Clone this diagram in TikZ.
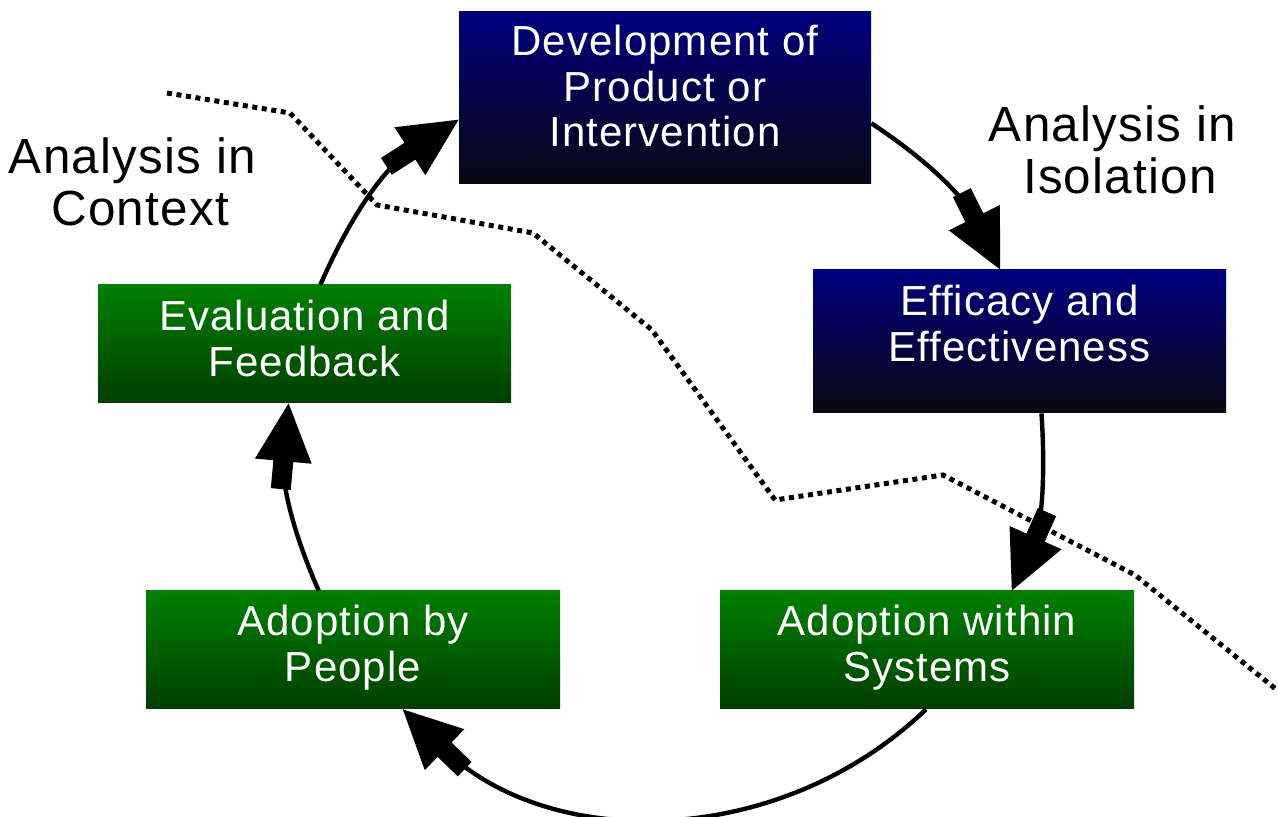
\documentclass[tikz,border=0pt]{standalone}
\usepackage{fontspec}
\setmainfont{Liberation Sans}[LetterSpace=2.5]
\usetikzlibrary{arrows.meta}
\definecolor{navyT}{RGB}{0,0,128}
\definecolor{navyB}{RGB}{10,8,18}
\definecolor{greenT}{RGB}{0,128,0}
\definecolor{greenB}{RGB}{0,62,0}
\tikzset{
  bluebox/.style={rectangle, inner sep=0pt, top color=navyT, bottom color=navyB, draw=none},
  greenbox/.style={rectangle, inner sep=0pt, top color=greenT, bottom color=greenB, draw=none},
  boxtext/.style={text=white, font=\fontsize{21}{22.75}\selectfont, align=center, anchor=north, inner sep=0pt},
  sidelabel/.style={font=\fontsize{24.7}{26}\selectfont, align=center, anchor=north, inner sep=0pt},
  cyc/.style={line width=2.2pt, -{Rectangle[length=15pt,width=10pt,line width=0pt,sep=-1pt] Triangle[length=29pt,width=28.5pt,line width=0pt]}},
  divider/.style={line width=2.5pt, dash pattern=on 2.5pt off 2.3pt}
}
\begin{document}
\begin{tikzpicture}[x=0.5pt,y=0.5pt]
\useasboundingbox (0,0) rectangle (1278,817);
% boxes
\node[bluebox, minimum width=206pt, minimum height=86pt] (dev) at (665,719) {};
\node[bluebox, minimum width=206.5pt, minimum height=71.5pt] (eff) at (1019.5,475.5) {};
\node[greenbox, minimum width=207pt, minimum height=59pt] (adw) at (927,167) {};
\node[greenbox, minimum width=207pt, minimum height=59pt] (adp) at (353,167) {};
\node[greenbox, minimum width=206.5pt, minimum height=59pt] (evl) at (304.5,473) {};
% box texts
\node[boxtext] (devT) at (665,792) {Development of\\Product or\\Intervention};
\node[boxtext] (effT) at (1019.5,532) {Efficacy and\\Effectiveness};
\node[boxtext] (adwT) at (927,212) {Adoption within\\Systems};
\node[boxtext] (adpT) at (353,212) {Adoption by\\People};
\node[boxtext] (evlT) at (304.5,517) {Evaluation and\\Feedback};
% side labels
\node[sidelabel] (iso) at (1120,712) {Analysis in\kern7.5pt\\Isolation};
\node[sidelabel] (ctx) at (140,680) {Analysis in\kern7.5pt\\Context};
% divider
\draw[divider] (167,724) -- (290,704) -- (377,612) -- (533,584) -- (652,487)
  -- (775,317) -- (943,342) -- (1135,242) -- (1277,127);
% cycle arrows
\draw[cyc] (dev.-7.47) to[out=-33.4, in=116.5] (eff.105.3);
\draw[cyc] (eff.-73.3) to[out=-86.3, in=65.9] (adw.35.4);
\draw[cyc] (adw.-91.9) to[out=-136.3, in=-44] (adp.-50.3);
\draw[cyc] (adp.120.7) to[out=113.9, in=-95.2] (evl.-105.6);
\draw[cyc] (evl.75.3) to[out=66.2, in=212.9] (dev.-174.5);
\end{tikzpicture}
\end{document}
